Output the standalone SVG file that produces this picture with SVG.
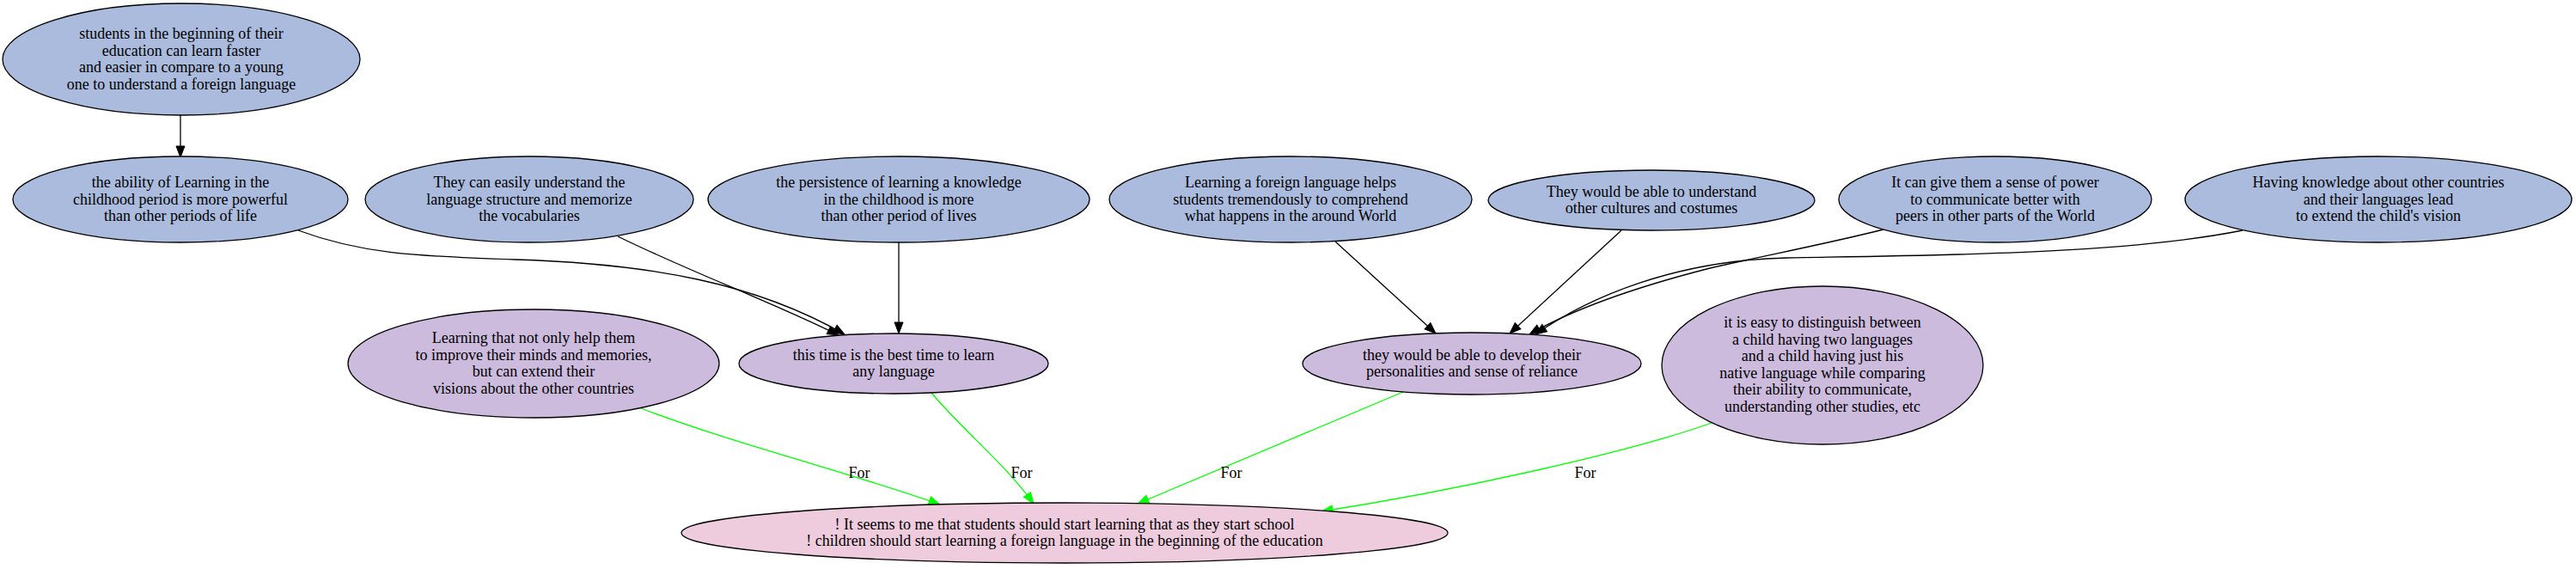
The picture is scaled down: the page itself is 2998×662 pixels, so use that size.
<svg xmlns="http://www.w3.org/2000/svg" width="2998" height="662" viewBox="0 0 2998 662">
<style>
.bg{fill:#ffffff}
.n ellipse{stroke:#000;stroke-width:1.3}
.blue ellipse{fill:#aabbdd}
.purple ellipse{fill:#ccbbdd}
.pink ellipse{fill:#eeccdd}
text{font-family:"Liberation Serif","Times New Roman",serif;font-size:18px;text-anchor:middle;fill:#000}
.e{fill:none;stroke:#000;stroke-width:1.3}
.g{fill:none;stroke:#00ff00;stroke-width:1.3}
</style>
<defs>
<marker id="ab" markerUnits="userSpaceOnUse" markerWidth="16" markerHeight="12" refX="13" refY="5" orient="auto" viewBox="-1 -1 16 12">
<path d="M0,0 L13,5 L0,10 z" fill="#000" stroke="#000" stroke-width="1"/>
</marker>
<marker id="ag" markerUnits="userSpaceOnUse" markerWidth="16" markerHeight="12" refX="13" refY="5" orient="auto" viewBox="-1 -1 16 12">
<path d="M0,0 L13,5 L0,10 z" fill="#00ff00" stroke="#00ff00" stroke-width="1"/>
</marker>
</defs>
<rect class="bg" x="0" y="0" width="2998" height="662"/>
<g id="edges">
<path class="e" marker-end="url(#ab)" d="M210,134 L210,183"/>
<path class="e" marker-end="url(#ab)" d="M347,268 C420,295 480,298 600,302 C760,307 880,330 983,389"/>
<path class="e" marker-end="url(#ab)" d="M719,275 C800,315 900,352 976,390"/>
<path class="e" marker-end="url(#ab)" d="M1046,282 L1046,388"/>
<path class="e" marker-end="url(#ab)" d="M1554,281 L1671,388"/>
<path class="e" marker-end="url(#ab)" d="M1887,268 L1757,388"/>
<path class="e" marker-end="url(#ab)" d="M2192,267 C2120,285 2050,298 1990,312 C1900,335 1830,360 1780,389"/>
<path class="e" marker-end="url(#ab)" d="M2610,268 C2470,296 2250,297 2080,300 C1950,303 1850,345 1787,389"/>
<path class="g" marker-end="url(#ag)" d="M746,475 C850,515 990,550 1094,587"/>
<path class="g" marker-end="url(#ag)" d="M1084,457 C1120,500 1170,540 1203,586"/>
<path class="g" marker-end="url(#ag)" d="M1633,456 L1324,586"/>
<path class="g" marker-end="url(#ag)" d="M1992,492 C1900,525 1700,570 1538,595"/>
<text x="1000" y="556">For</text>
<text x="1189" y="556">For</text>
<text x="1433" y="556">For</text>
<text x="1845" y="556">For</text>
</g>
<g id="nA" class="n blue">
<ellipse cx="211" cy="69" rx="208" ry="65"/>
<text x="211" y="45">students in the beginning of their</text>
<text x="211" y="64.6">education can learn faster</text>
<text x="211" y="84.2">and easier in compare to a young</text>
<text x="211" y="103.8">one to understand a foreign language</text>
</g>
<g id="nB" class="n blue">
<ellipse cx="210" cy="232" rx="195" ry="50"/>
<text x="210" y="218">the ability of Learning in the</text>
<text x="210" y="237.6">childhood period is more powerful</text>
<text x="210" y="257.2">than other periods of life</text>
</g>
<g id="nC" class="n blue">
<ellipse cx="616" cy="232" rx="191" ry="50"/>
<text x="616" y="218">They can easily understand the</text>
<text x="616" y="237.6">language structure and memorize</text>
<text x="616" y="257.2">the vocabularies</text>
</g>
<g id="nD" class="n blue">
<ellipse cx="1046" cy="232" rx="222" ry="50"/>
<text x="1046" y="218">the persistence of learning a knowledge</text>
<text x="1046" y="237.6">in the childhood is more</text>
<text x="1046" y="257.2">than other period of lives</text>
</g>
<g id="nE" class="n blue">
<ellipse cx="1502" cy="232" rx="211" ry="50"/>
<text x="1502" y="218">Learning a foreign language helps</text>
<text x="1502" y="237.6">students tremendously to comprehend</text>
<text x="1502" y="257.2">what happens in the around World</text>
</g>
<g id="nF" class="n blue">
<ellipse cx="1922" cy="233" rx="190" ry="35"/>
<text x="1922" y="228.5">They would be able to understand</text>
<text x="1922" y="248.1">other cultures and costumes</text>
</g>
<g id="nG" class="n blue">
<ellipse cx="2322" cy="232" rx="182" ry="50"/>
<text x="2322" y="218">It can give them a sense of power</text>
<text x="2322" y="237.6">to communicate better with</text>
<text x="2322" y="257.2">peers in other parts of the World</text>
</g>
<g id="nH" class="n blue">
<ellipse cx="2768" cy="232" rx="225" ry="50"/>
<text x="2768" y="218">Having knowledge about other countries</text>
<text x="2768" y="237.6">and their languages lead</text>
<text x="2768" y="257.2">to extend the child's vision</text>
</g>
<g id="nI" class="n purple">
<ellipse cx="621" cy="423" rx="216" ry="63"/>
<text x="621" y="399">Learning that not only help them</text>
<text x="621" y="418.6">to improve their minds and memories,</text>
<text x="621" y="438.2">but can extend their</text>
<text x="621" y="457.8">visions about the other countries</text>
</g>
<g id="nJ" class="n purple">
<ellipse cx="1040" cy="423" rx="180" ry="35"/>
<text x="1040" y="418.5">this time is the best time to learn</text>
<text x="1040" y="438.1">any language</text>
</g>
<g id="nK" class="n purple">
<ellipse cx="1713" cy="423" rx="197" ry="36"/>
<text x="1713" y="418.5">they would be able to develop their</text>
<text x="1713" y="438.1">personalities and sense of reliance</text>
</g>
<g id="nL" class="n purple">
<ellipse cx="2121" cy="425" rx="187" ry="92"/>
<text x="2121" y="381">it is easy to distinguish between</text>
<text x="2121" y="400.6">a child having two languages</text>
<text x="2121" y="420.2">and a child having just his</text>
<text x="2121" y="439.8">native language while comparing</text>
<text x="2121" y="459.4">their ability to communicate,</text>
<text x="2121" y="479">understanding other studies, etc</text>
</g>
<g id="nM" class="n pink">
<ellipse cx="1239" cy="620" rx="446" ry="35"/>
<text x="1239" y="615.5">! It seems to me that students should start learning that as they start school</text>
<text x="1239" y="635.1">! children should start learning a foreign language in the beginning of the education</text>
</g>
</svg>
